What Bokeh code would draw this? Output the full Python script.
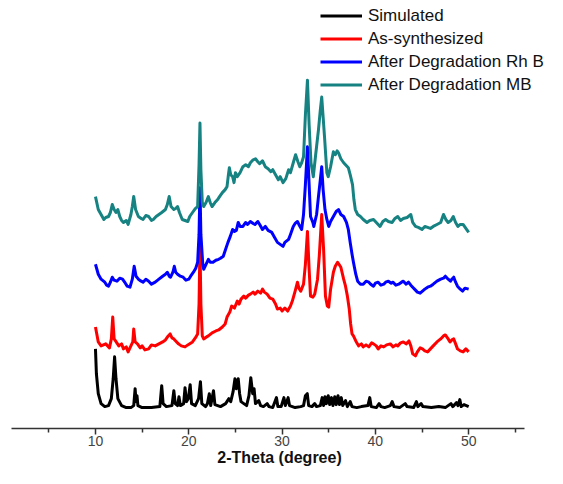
from bokeh.plotting import figure
from bokeh.models import Range1d, FixedTicker, Legend, LegendItem, ColumnDataSource
from bokeh.embed import file_html
from bokeh.resources import INLINE

# ---- data (2-Theta in degrees, intensity in arbitrary units, offset per pattern) ----
series_names = ["Simulated", "As-synthesized", "After Degradation Rh B", "After Degradation MB"]
series_colors = ["#000000", "#ff0000", "#0000ff", "#168282"]

simulated = [
    (10.0, 85), (10.1, 60), (10.3, 40), (10.6, 30), (11.0, 27), (11.4, 28), (11.7, 35), (11.9, 55),
    (12.05, 77), (12.2, 55), (12.4, 35), (12.8, 28), (13.3, 26), (13.8, 26), (14.1, 28), (14.25, 45),
    (14.35, 32), (14.45, 38), (14.55, 28), (15.0, 26), (16.0, 26), (16.9, 27), (17.1, 48), (17.25, 30),
    (17.6, 27), (18.2, 28), (18.4, 43), (18.55, 30), (18.8, 28), (18.95, 37), (19.1, 28), (19.45, 30),
    (19.6, 46), (19.75, 32), (19.95, 35), (20.15, 49), (20.3, 30), (20.7, 28), (21.05, 35), (21.25, 52),
    (21.4, 30), (21.8, 27), (22.0, 30), (22.2, 40), (22.35, 28), (22.65, 43), (22.8, 29), (23.4, 27),
    (23.95, 30), (24.3, 35), (24.5, 32), (24.75, 42), (24.95, 55), (25.1, 45), (25.3, 55), (25.45, 40),
    (25.6, 32), (25.9, 30), (26.2, 28), (26.45, 38), (26.65, 56), (26.85, 40), (27.0, 45), (27.15, 30),
    (27.5, 33), (27.7, 28), (28.0, 27), (28.4, 30), (28.6, 27), (29.0, 26), (29.4, 36), (29.55, 27),
    (29.9, 27), (30.2, 36), (30.35, 28), (30.65, 36), (30.8, 28), (31.4, 26), (32.0, 27), (32.3, 28),
    (32.5, 38), (32.7, 40), (32.85, 28), (33.2, 27), (33.5, 30), (33.7, 27), (34.1, 28), (34.3, 36),
    (34.45, 28), (34.6, 37), (34.75, 30), (34.95, 38), (35.1, 29), (35.3, 36), (35.45, 28), (35.65, 37),
    (35.8, 29), (36.0, 38), (36.15, 29), (36.35, 36), (36.5, 28), (36.8, 33), (37.0, 27), (37.3, 32),
    (37.5, 27), (38.0, 26), (38.5, 27), (39.2, 28), (39.4, 36), (39.55, 27), (40.1, 26), (40.4, 30),
    (40.6, 27), (41.0, 26), (41.6, 28), (41.8, 32), (42.0, 27), (42.6, 26), (43.2, 30), (43.4, 27),
    (44.1, 26), (44.4, 32), (44.55, 27), (44.9, 30), (45.1, 27), (46.0, 26), (46.8, 27), (47.5, 26),
    (48.1, 30), (48.3, 27), (48.7, 31), (48.85, 28), (49.05, 34), (49.2, 27), (49.5, 29), (50.0, 27),
]

as_synthesized = [
    (10.0, 107), (10.3, 92), (10.6, 88), (11.1, 90), (11.5, 86), (11.7, 95), (11.85, 117), (12.0, 95),
    (12.15, 93), (12.5, 88), (12.8, 90), (13.0, 85), (13.3, 87), (13.5, 82), (13.8, 88), (14.0, 92),
    (14.1, 105), (14.25, 92), (14.5, 90), (14.8, 86), (15.0, 88), (15.3, 84), (15.7, 85), (16.0, 89),
    (16.4, 88), (16.8, 90), (17.2, 92), (17.5, 94), (17.8, 98), (18.0, 100), (18.2, 96), (18.4, 95),
    (18.7, 92), (18.9, 90), (19.2, 88), (19.6, 87), (19.9, 89), (20.4, 92), (20.7, 96), (20.95, 100),
    (21.1, 130), (21.2, 190), (21.3, 130), (21.45, 98), (21.6, 95), (21.9, 97), (22.1, 98), (22.5, 101),
    (22.9, 103), (23.2, 104), (23.6, 107), (23.9, 110), (24.1, 117), (24.4, 122), (24.6, 128), (24.9, 126),
    (25.2, 133), (25.4, 130), (25.6, 135), (25.9, 138), (26.1, 136), (26.4, 139), (26.6, 140), (26.9, 142),
    (27.1, 140), (27.4, 143), (27.7, 141), (27.9, 145), (28.1, 142), (28.4, 140), (28.7, 136), (29.0, 135),
    (29.3, 130), (29.5, 125), (29.8, 126), (30.0, 123), (30.3, 126), (30.6, 123), (30.9, 128), (31.1, 133),
    (31.4, 143), (31.65, 152), (31.8, 146), (32.0, 143), (32.3, 150), (32.5, 170), (32.72, 203), (32.9, 165),
    (33.05, 138), (33.3, 137), (33.5, 140), (33.8, 155), (34.0, 180), (34.25, 220), (34.45, 185), (34.65, 138),
    (34.85, 128), (35.0, 127), (35.2, 145), (35.5, 162), (35.7, 168), (35.95, 172), (36.1, 170), (36.3, 167),
    (36.6, 155), (36.8, 148), (37.0, 138), (37.2, 125), (37.35, 110), (37.5, 100), (37.65, 98), (37.9, 93),
    (38.2, 88), (38.5, 90), (38.7, 87), (39.0, 89), (39.3, 87), (39.6, 91), (39.8, 90), (40.1, 88),
    (40.3, 85), (40.6, 88), (40.9, 87), (41.2, 89), (41.6, 90), (41.9, 87), (42.2, 89), (42.4, 88),
    (42.7, 91), (43.0, 92), (43.3, 90), (43.6, 93), (43.8, 88), (44.0, 80), (44.3, 78), (44.5, 82),
    (44.8, 86), (45.05, 85), (45.3, 83), (45.6, 82), (45.9, 85), (46.2, 88), (46.6, 92), (47.0, 95),
    (47.3, 98), (47.5, 99), (47.8, 95), (48.0, 92), (48.2, 94), (48.4, 95), (48.6, 90), (48.8, 85),
    (49.1, 83), (49.4, 82), (49.7, 85), (50.0, 82),
]

after_rhb = [
    (10.0, 170), (10.3, 160), (10.6, 155), (11.0, 152), (11.2, 149), (11.4, 148), (11.6, 152), (11.8, 157),
    (12.0, 154), (12.3, 153), (12.6, 156), (12.9, 155), (13.2, 151), (13.4, 148), (13.7, 147), (13.95, 155),
    (14.15, 168), (14.35, 158), (14.6, 155), (14.9, 153), (15.1, 152), (15.4, 155), (15.7, 153), (16.0, 150),
    (16.4, 152), (16.8, 155), (17.2, 158), (17.5, 160), (17.7, 162), (17.9, 158), (18.05, 157), (18.3, 162),
    (18.45, 168), (18.6, 162), (18.8, 160), (19.1, 158), (19.4, 157), (19.7, 154), (20.0, 155), (20.2, 158),
    (20.5, 162), (20.75, 166), (20.95, 172), (21.1, 200), (21.2, 247), (21.3, 200), (21.5, 170), (21.6, 165),
    (21.8, 169), (22.1, 175), (22.3, 172), (22.6, 172), (22.9, 174), (23.2, 175), (23.4, 176), (23.7, 178),
    (23.95, 185), (24.2, 192), (24.45, 198), (24.7, 205), (24.9, 203), (25.1, 204), (25.3, 212), (25.5, 208),
    (25.8, 208), (26.1, 212), (26.3, 210), (26.6, 213), (26.9, 211), (27.1, 210), (27.4, 213), (27.6, 210),
    (27.9, 205), (28.2, 208), (28.5, 204), (28.9, 202), (29.2, 197), (29.5, 192), (29.8, 190), (30.1, 188),
    (30.3, 192), (30.7, 195), (30.9, 200), (31.2, 208), (31.4, 211), (31.65, 213), (31.8, 210), (32.1, 205),
    (32.3, 220), (32.5, 250), (32.72, 288), (32.9, 250), (33.05, 218), (33.3, 212), (33.4, 208), (33.7, 220),
    (33.9, 238), (34.1, 255), (34.25, 268), (34.4, 245), (34.6, 225), (34.8, 215), (35.0, 208), (35.2, 213),
    (35.5, 218), (35.8, 223), (36.05, 225), (36.3, 220), (36.6, 218), (36.9, 212), (37.1, 205), (37.3, 192),
    (37.5, 180), (37.65, 172), (37.9, 160), (38.1, 153), (38.4, 150), (38.7, 150), (39.0, 153), (39.3, 152),
    (39.5, 150), (39.8, 148), (40.0, 151), (40.3, 152), (40.6, 149), (40.9, 150), (41.1, 152), (41.4, 153),
    (41.7, 151), (41.9, 152), (42.2, 149), (42.5, 150), (42.8, 152), (43.0, 153), (43.3, 150), (43.55, 152),
    (43.8, 149), (44.0, 147), (44.3, 144), (44.5, 142), (44.8, 141), (45.05, 143), (45.3, 145), (45.6, 147),
    (45.9, 148), (46.2, 150), (46.6, 153), (47.0, 155), (47.3, 156), (47.5, 158), (47.8, 155), (48.05, 153),
    (48.2, 155), (48.4, 157), (48.6, 152), (48.8, 148), (49.1, 145), (49.35, 143), (49.6, 146), (50.0, 145),
]

after_mb = [
    (10.0, 238), (10.3, 225), (10.6, 220), (10.9, 215), (11.1, 217), (11.4, 218), (11.6, 222), (11.8, 230),
    (12.0, 225), (12.2, 222), (12.4, 225), (12.6, 218), (12.8, 214), (13.0, 212), (13.3, 214), (13.5, 210),
    (13.8, 220), (13.95, 228), (14.1, 238), (14.3, 225), (14.6, 218), (14.9, 216), (15.1, 215), (15.4, 219),
    (15.7, 218), (16.0, 214), (16.2, 215), (16.5, 218), (16.8, 220), (17.1, 222), (17.5, 225), (17.7, 230),
    (17.9, 238), (18.1, 228), (18.4, 225), (18.6, 226), (18.8, 228), (19.0, 222), (19.3, 215), (19.6, 214),
    (19.9, 213), (20.1, 218), (20.4, 222), (20.7, 226), (20.95, 228), (21.1, 270), (21.2, 312), (21.3, 265),
    (21.45, 232), (21.6, 228), (21.85, 232), (22.1, 238), (22.3, 232), (22.5, 228), (22.8, 232), (23.1, 235),
    (23.3, 238), (23.6, 242), (23.9, 245), (24.1, 248), (24.25, 260), (24.35, 267), (24.5, 260), (24.7, 258),
    (24.85, 252), (25.0, 262), (25.2, 258), (25.5, 262), (25.8, 268), (26.1, 270), (26.4, 268), (26.6, 272),
    (26.9, 275), (27.15, 276), (27.4, 273), (27.6, 271), (27.9, 274), (28.2, 268), (28.5, 266), (28.8, 263),
    (29.0, 265), (29.3, 260), (29.6, 255), (29.8, 258), (30.1, 252), (30.4, 256), (30.7, 265), (30.9, 262),
    (31.2, 272), (31.45, 280), (31.7, 273), (31.9, 268), (32.1, 272), (32.3, 278), (32.5, 320), (32.72, 355),
    (32.9, 310), (33.1, 272), (33.35, 258), (33.6, 280), (33.9, 305), (34.1, 325), (34.25, 338), (34.4, 318),
    (34.55, 298), (34.8, 262), (34.95, 258), (35.2, 268), (35.5, 283), (35.7, 280), (35.9, 284), (36.05, 282),
    (36.3, 276), (36.6, 272), (36.8, 270), (37.1, 267), (37.3, 260), (37.55, 250), (37.7, 235), (37.85, 225),
    (38.1, 220), (38.4, 218), (38.7, 215), (39.1, 212), (39.4, 214), (39.8, 215), (40.1, 212), (40.5, 208),
    (40.8, 213), (41.1, 215), (41.4, 213), (41.8, 212), (42.1, 216), (42.4, 218), (42.7, 214), (43.0, 216),
    (43.4, 217), (43.8, 220), (44.0, 212), (44.3, 208), (44.6, 207), (45.0, 205), (45.3, 208), (45.6, 207),
    (45.9, 206), (46.2, 208), (46.6, 210), (47.0, 212), (47.3, 220), (47.55, 215), (47.8, 212), (48.1, 214),
    (48.35, 218), (48.6, 212), (48.85, 208), (49.1, 210), (49.4, 210), (49.7, 206), (50.0, 202),
]

x_major_ticks = [10, 20, 30, 40, 50]
x_minor_ticks = [5, 15, 25, 35, 45, 55]
x_axis_extent = (1, 56)
x_label = "2-Theta (degree)"

# ---- figure ----
FONT = "Liberation Sans"
W, H = 547, 468
LEFT, BOTTOM = 11, 38
PX_PER_DEG = 9.33
frame_w = W - LEFT
frame_h = H - BOTTOM
x0 = x_axis_extent[0]
p = figure(width=W, height=H, output_backend="svg", toolbar_location=None,
           x_range=Range1d(x0, x0 + frame_w / PX_PER_DEG),
           y_range=Range1d(435 - frame_h, 435),
           y_axis_location=None,
           min_border_left=LEFT, min_border_right=0, min_border_top=0, min_border_bottom=BOTTOM)
p.outline_line_color = None
p.xgrid.visible = False
p.ygrid.visible = False
p.background_fill_color = "white"
p.border_fill_color = "white"

items = []
for data, name, color in zip([simulated, as_synthesized, after_rhb, after_mb], series_names, series_colors):
    src = ColumnDataSource(dict(x=[d[0] for d in data], y=[d[1] for d in data]))
    r = p.line("x", "y", source=src, line_color=color, line_width=3, line_join="round")
    items.append(LegendItem(label=name, renderers=[r]))

ax = p.xaxis[0]
ax.bounds = x_axis_extent
ax.ticker = FixedTicker(ticks=x_major_ticks, minor_ticks=x_minor_ticks)
ax.axis_label = x_label
ax.axis_label_text_font = FONT
ax.axis_label_text_font_style = "bold"
ax.axis_label_text_font_size = "16px"
ax.axis_label_text_color = "#111111"
ax.axis_label_standoff = 0
ax.major_label_text_font = FONT
ax.major_label_text_font_size = "14px"
ax.major_label_text_color = "#444444"
ax.major_label_standoff = 1
ax.axis_line_color = "#333333"
ax.axis_line_width = 1.5
ax.major_tick_line_color = "#333333"
ax.major_tick_line_width = 1.5
ax.minor_tick_line_color = "#333333"
ax.minor_tick_line_width = 1.5
ax.major_tick_in = 0
ax.major_tick_out = 6
ax.minor_tick_in = 0
ax.minor_tick_out = 4

legend = Legend(items=items, location=(309, frame_h - 98))
legend.label_text_font = FONT
legend.label_text_font_size = "17px"
legend.label_text_color = "#111111"
legend.glyph_width = 42
legend.glyph_height = 23
legend.label_height = 23
legend.label_standoff = 6
legend.spacing = 0
legend.padding = 0
legend.margin = 0
legend.border_line_color = None
legend.background_fill_alpha = 0
p.add_layout(legend, "center")

open("out.html", "w").write(file_html(p, INLINE))
